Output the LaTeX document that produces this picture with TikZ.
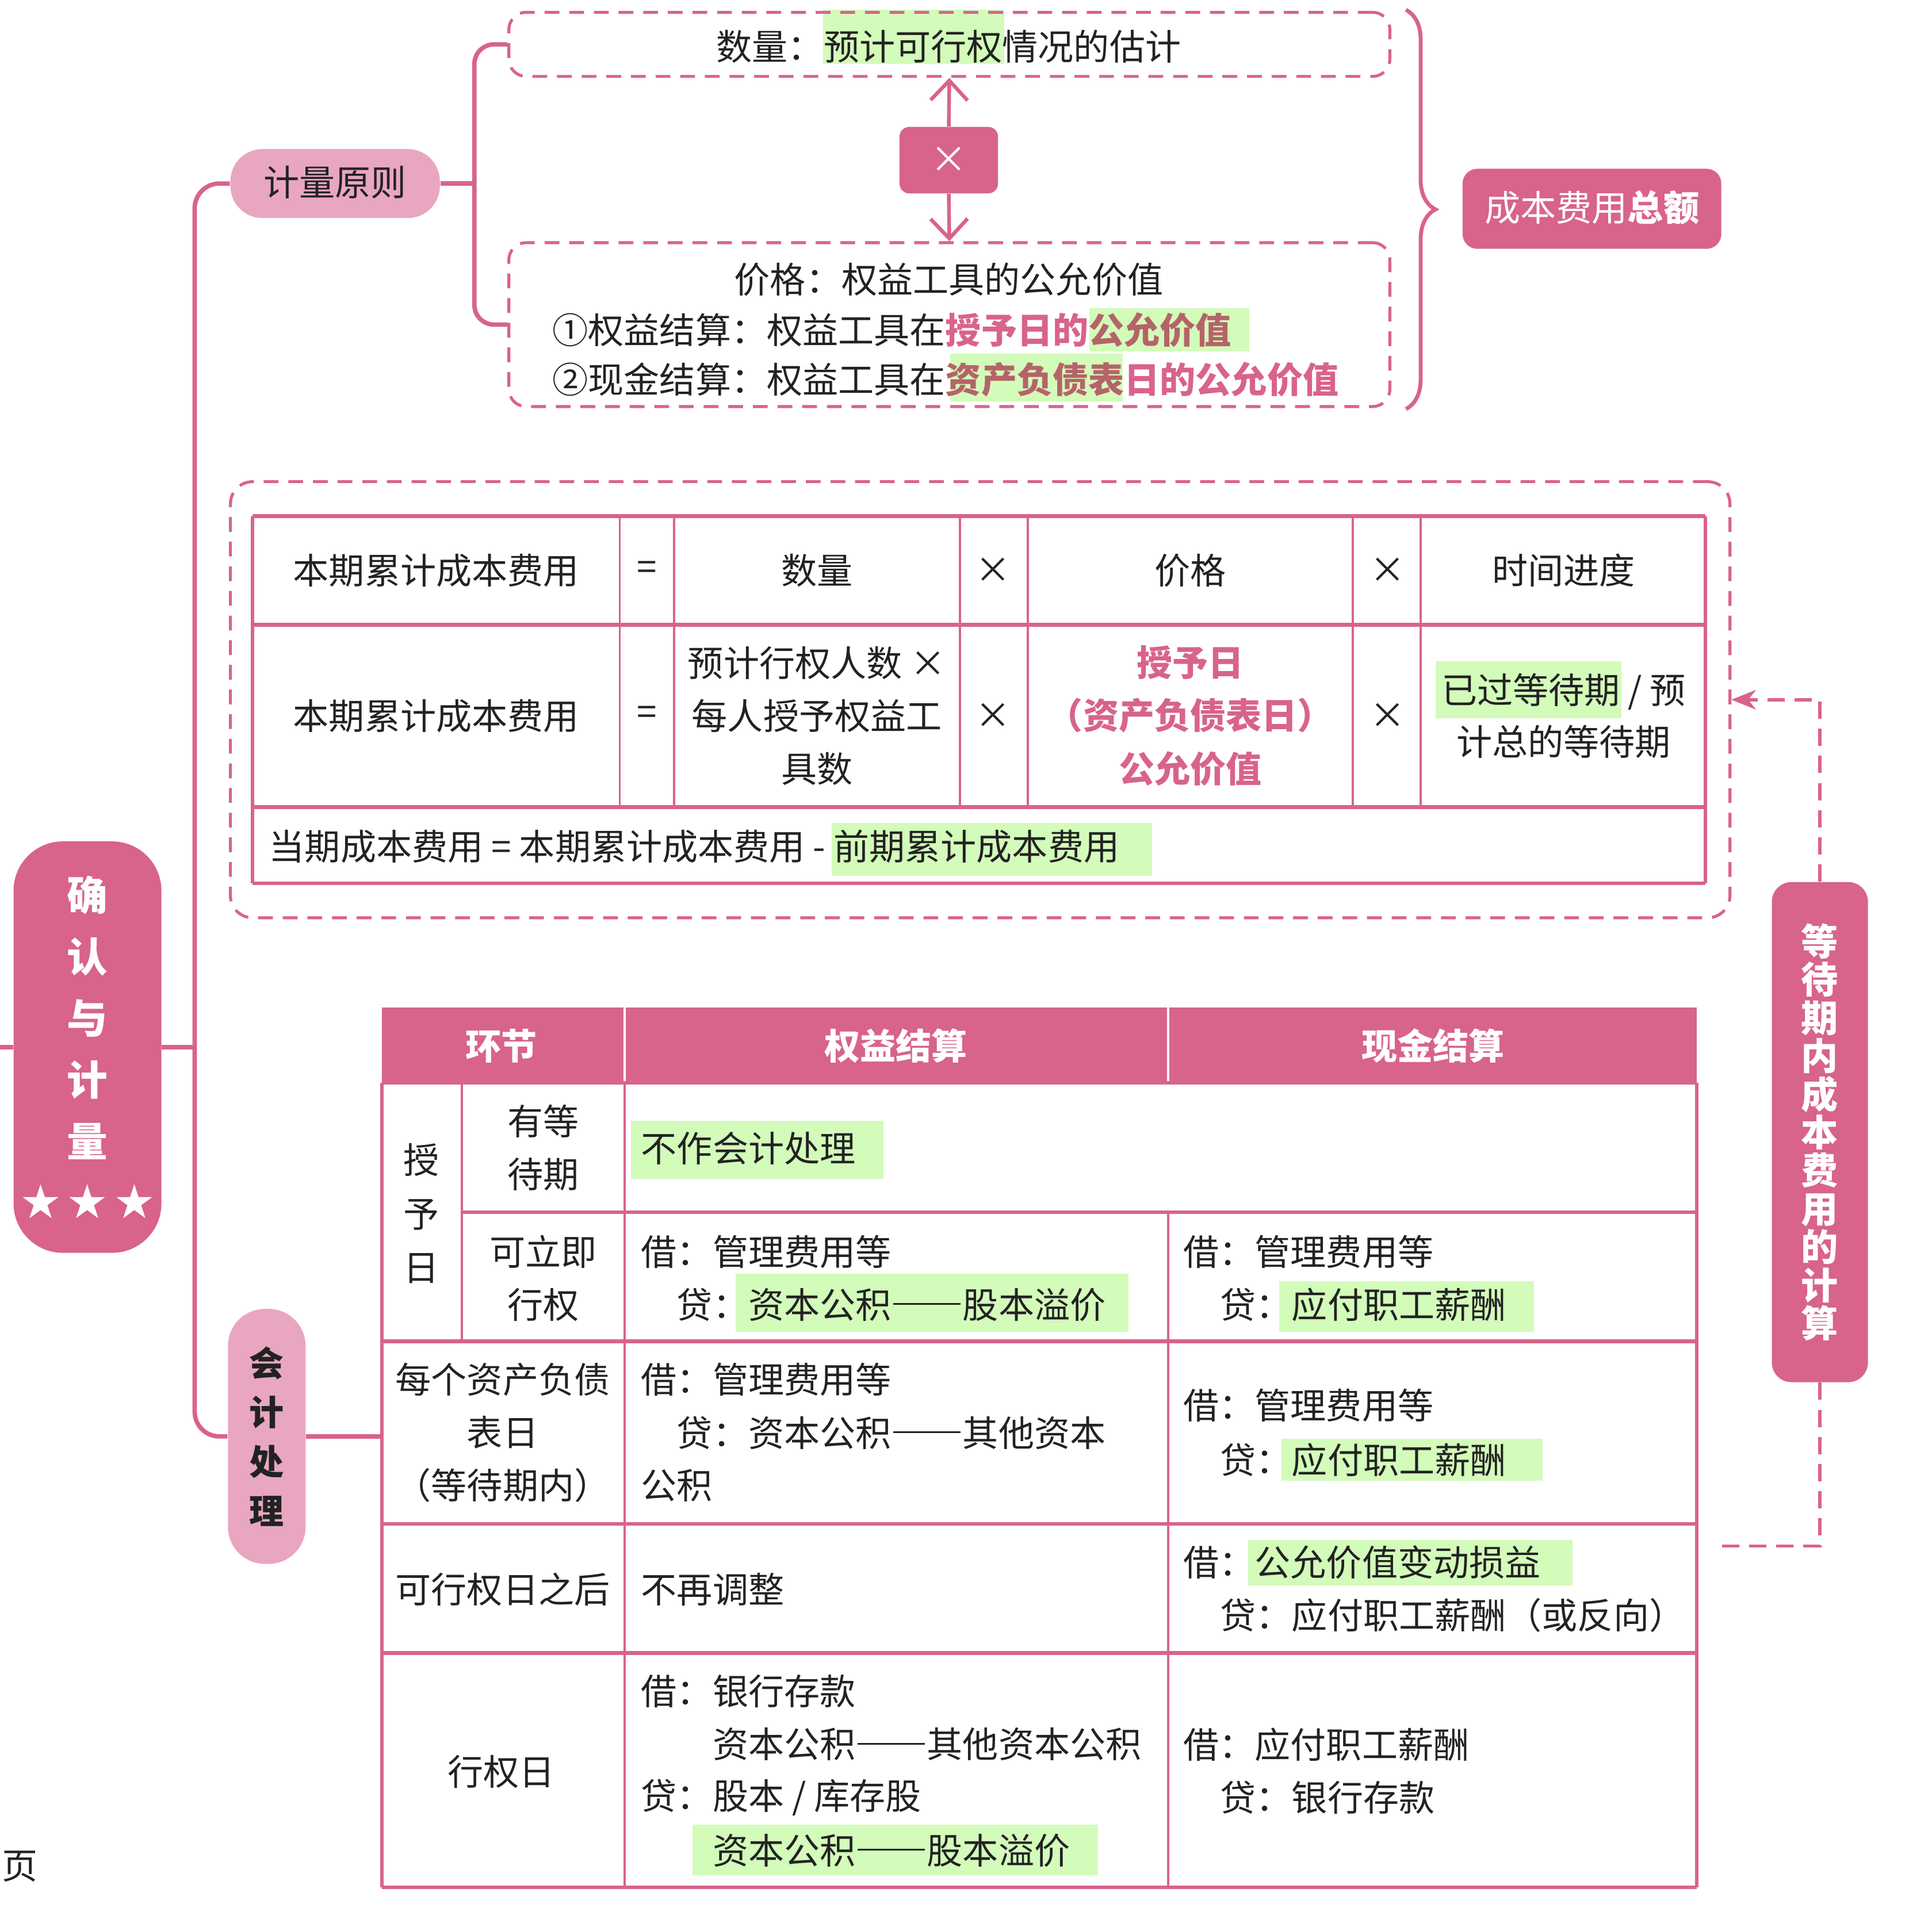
\documentclass[tikz,border=0pt]{standalone}
\usepackage{fontspec}
\setmainfont{Noto Sans CJK SC}
\newfontfamily\dejavu{DejaVu Sans}
\usetikzlibrary{arrows.meta,decorations.pathreplacing}
\definecolor{pk}{HTML}{D8638D}
\definecolor{lpk}{HTML}{E8A6C1}
\definecolor{hl}{HTML}{D3FBBA}
\definecolor{ink}{HTML}{222222}
\definecolor{pkhl}{HTML}{B46468}
\newcommand\fs{\fontsize{14.5}{21.5}\selectfont}
\newcommand\dd{\hspace{0.06em}\rule[0.37em]{1.88em}{0.055em}\hspace{0.06em}}
\tikzset{
  every node/.style={inner sep=0pt, text=ink, font=\fs},
  tree/.style={draw=pk, line width=1.8pt, rounded corners=6pt},
  dashbox/.style={draw=pk, line width=1.2pt, dash pattern=on 6pt off 4pt, rounded corners=7pt},
  tbv/.style={draw=pk, line width=0.9pt},
  tbo/.style={draw=pk, line width=1.3pt},
  tbh/.style={draw=pk, line width=1.6pt},
  lt/.style={anchor=west},
  barb/.style={draw=pk, line width=1.5pt, -{Straight Barb[length=8pt,width=15pt]}},
  wdash/.style={draw=pk, line width=1.3pt, dash pattern=on 7pt off 4pt},
  pnode/.style={fill=pk, text=white, rounded corners=6pt},
  lnode/.style={fill=lpk, text=ink},
  lowtxt/.style={text height=1em, text depth=0pt},
}
\begin{document}
\begin{tikzpicture}[x=0.5pt,y=-0.5pt]
\useasboundingbox (0,0) rectangle (1568,1564);
% highlights
\foreach \a/\b/\c/\d in {668/8/815/52, 884/250/1014/285, 771/287/911/326,
  1165/537/1316/583, 675/668/935/711, 512/910/717/957, 597/1034/916/1081,
  1038/1040/1245/1081, 1040/1168/1252/1202, 1013/1250/1276/1287, 562/1481/891/1522}
  \fill[hl] (\a,\b) rectangle (\c,\d);

% ---------- top section ----------
\node[dashbox, minimum width=357.5pt, minimum height=26pt] (qty) at (770.5,36) {};
\node (qtyt) at (770,38) {数量：预计可行权情况的估计};
\node[pnode, rounded corners=4pt, minimum width=40pt, minimum height=27pt] (mul) at (770,130) {\fontsize{15}{15}\selectfont ×};
\node[dashbox, minimum width=357.5pt, minimum height=66.5pt] (prc) at (770.5,263.5) {};
\node (prc1) at (770,227) {价格：权益工具的公允价值};
\node[lt] (prc2) at (448,268) {①权益结算：权益工具在{\bfseries\textcolor{pk}{授予日的}\textcolor{pkhl}{公允价值}}};
\node[lt] (prc3) at (448,308) {②现金结算：权益工具在{\bfseries\textcolor{pkhl}{资产负债表}\textcolor{pk}{日的公允价值}}};
\draw[barb] (mul.north) -- (qty.south);
\draw[barb] (mul.south) -- (prc.north);

\node[lnode, lowtxt, minimum width=85pt, minimum height=28pt, rounded corners=13pt] (jl) at (272,149) {计量原则};
\draw[tree] (jl.east) -- (385,149);
\draw[tree, rounded corners=8pt] (qty.west) -- (385,36) -- (385,263.5) -- (prc.west);

\draw[draw=pk, line width=1.6pt, decorate, decoration={brace, amplitude=12pt}] (1141,8) -- (1141,332);
\node[pnode, lowtxt, minimum width=105pt, minimum height=32.5pt] (total) at (1292,169.5) {成本费用\textbf{总额}};

% ---------- root & trunk ----------
\node[pnode, rounded corners=20pt, minimum width=60pt, minimum height=167pt, align=center,
  font=\fontsize{16.5}{25}\selectfont\bfseries] (root) at (71,850)
  {确\\认\\与\\计\\量\\{\dejavu\fontsize{19}{25}\selectfont ★\hspace{2pt}★\hspace{2pt}★}};
\coordinate (lstub) at (0,850);
\draw[tree] (lstub) -- (root.west);
\node[lnode, rounded corners=15pt, minimum width=31.5pt, minimum height=103.5pt, align=center,
  font=\fontsize{14}{20}\selectfont\bfseries] (kj) at (216.5,1166) {会\\计\\处\\理};
\draw[tree, rounded corners=10pt] (jl.west) -- (158,149) -- (158,1166) -- (kj.west);
\draw[tree] (root.east) -- (158,850);
\coordinate (tbl) at (310,1166);
\draw[tree] (kj.east) -- (tbl);

% ---------- middle formula table ----------
\node[dashbox, rounded corners=9pt, minimum width=608.5pt, minimum height=177pt] (mbox) at (795.5,568) {};
\foreach \x in {503,547,779,834,1098,1153} \draw[tbv] (\x,419) -- (\x,655);
\draw[tbo] (205,419) -- (205,717);
\draw[tbo] (1384,419) -- (1384,717);
\foreach \y in {419,507,655,717} \draw[tbh] (205,\y) -- (1384,\y);
\node (r1c1) at (354,463) {本期累计成本费用};
\node (r1c2) at (525,463) {=};
\node (r1c3) at (663,463) {数量};
\node (r1c4) at (806,463) {×};
\node (r1c5) at (966,463) {价格};
\node (r1c6) at (1126,463) {×};
\node (r1c7) at (1269,463) {时间进度};
\node (r2c1) at (354,581) {本期累计成本费用};
\node (r2c2) at (525,581) {=};
\node[align=center] (r2c3) at (663,581) {预计行权人数 ×\\每人授予权益工\\具数};
\node (r2c4) at (806,581) {×};
\node[align=center, text=pk, font=\fs\bfseries] (r2c5) at (966,581) {授予日\\（资产负债表日）\\公允价值};
\node (r2c6) at (1126,581) {×};
\node[align=center, font=\fontsize{14.5}{21}\selectfont] (r2c7) at (1269,581) {已过等待期 / 预\\计总的等待期};
\node[lt] (r3) at (218,687) {当期成本费用 = 本期累计成本费用 - 前期累计成本费用};

% ---------- waiting period node ----------
\node[pnode, rounded corners=8pt, minimum width=39pt, minimum height=203pt, align=center,
  font=\fontsize{15}{15.5}\selectfont\bfseries] (wt) at (1477,919)
  {等\\待\\期\\内\\成\\本\\费\\用\\的\\计\\算};
\draw[wdash, -{Stealth[length=10pt,width=8pt]}] (wt.north) |- (mbox.east);
\coordinate (wend) at (1395,1255);
\draw[wdash] (wt.south) |- (wend);

% ---------- bottom table ----------
\fill[pk] (310,818) rectangle (1377,879);
\draw[white, line width=0.8pt] (507,818) -- (507,879);
\draw[white, line width=0.8pt] (948,818) -- (948,879);
\draw[tbo] (310,879) -- (310,1532);
\draw[tbo] (1377,879) -- (1377,1532);
\draw[tbv] (375,879) -- (375,1089);
\draw[tbv] (507,879) -- (507,1532);
\draw[tbv] (948,984) -- (948,1532);
\draw[tbh] (375,984) -- (1377,984);
\foreach \y in {879,1089,1237,1342,1532} \draw[tbh] (310,\y) -- (1377,\y);

\node[text=white, font=\fs\bfseries] (h1) at (407,849) {环节};
\node[text=white, font=\fs\bfseries] (h2) at (727,849) {权益结算};
\node[text=white, font=\fs\bfseries] (h3) at (1163,849) {现金结算};

\node[align=center, font=\fontsize{14.5}{21.75}\selectfont] (syr) at (342,985) {授\\予\\日};
\node[align=center] (ydd) at (441,931.5) {有等\\待期};
\node[align=center] (klj) at (441,1037.5) {可立即\\行权};
\node[align=center] (mgz) at (408,1163) {每个资产负债\\表日\\（等待期内）};
\node (kxq) at (408,1290) {可行权日之后};
\node (xqr) at (407,1438) {行权日};

\node[lt] (e1) at (520,932) {不作会计处理};
\node[lt] (e2a) at (520,1016) {借：管理费用等};
\node[lt] (e2b) at (549,1059) {贷：资本公积\dd 股本溢价};
\node[lt] (e3a) at (520,1120) {借：管理费用等};
\node[lt] (e3b) at (549,1163) {贷：资本公积\dd 其他资本};
\node[lt] (e3c) at (520,1206) {公积};
\node[lt] (e4) at (520,1290) {不再调整};
\node[lt] (e5a) at (520,1373) {借：银行存款};
\node[lt] (e5b) at (578,1416) {资本公积\dd 其他资本公积};
\node[lt] (e5c) at (520,1459) {贷：股本 / 库存股};
\node[lt] (e5d) at (578,1502) {资本公积\dd 股本溢价};

\node[lt] (c2a) at (960,1016) {借：管理费用等};
\node[lt] (c2b) at (990,1059) {贷：应付职工薪酬};
\node[lt] (c3a) at (960,1141) {借：管理费用等};
\node[lt] (c3b) at (990,1185) {贷：应付职工薪酬};
\node[lt] (c4a) at (960,1268) {借：公允价值变动损益};
\node[lt] (c4b) at (990,1311) {贷：应付职工薪酬（或反向）};
\node[lt] (c5a) at (960,1416) {借：应付职工薪酬};
\node[lt] (c5b) at (990,1459) {贷：银行存款};

\node (ye) at (16,1515) {页};
\end{tikzpicture}
\end{document}
